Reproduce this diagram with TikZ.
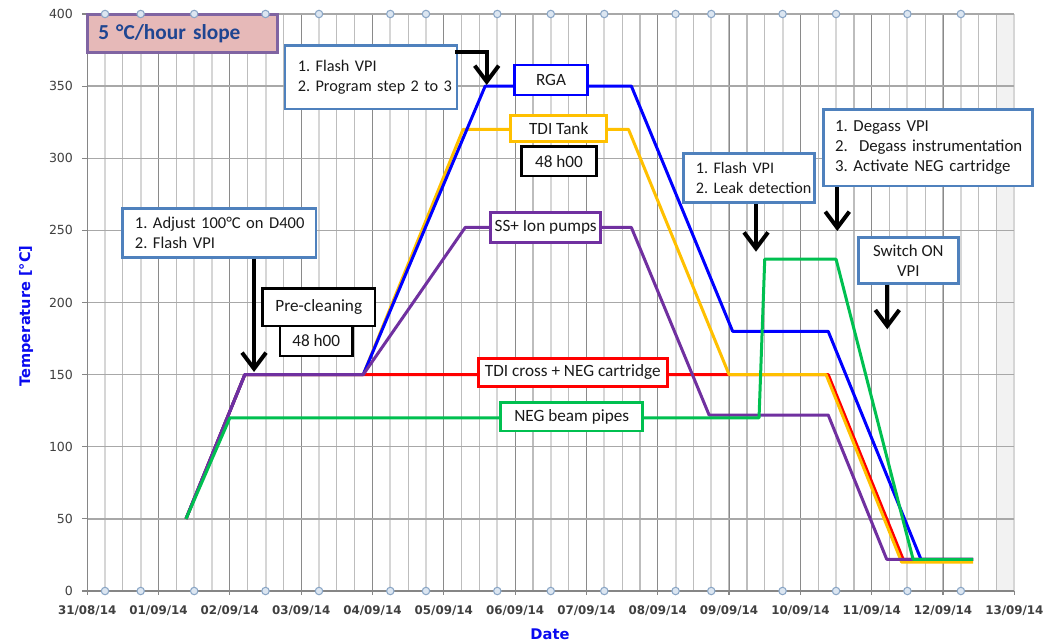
\documentclass[tikz,border=0pt]{standalone}
\usepackage{fontspec}
\setmainfont{Carlito}
\newfontfamily\axfont{DejaVu Sans}
\usetikzlibrary{arrows.meta}
\definecolor{gridmaj}{HTML}{8A8A8A}
\definecolor{gridmin}{HTML}{BDBDBD}
\definecolor{gridlt}{HTML}{D6D6D6}
\definecolor{gridh}{HTML}{A8A8A8}
\definecolor{shadecol}{HTML}{F2F2F2}
\definecolor{axcol}{HTML}{868686}
\definecolor{ticktxt}{HTML}{404040}
\definecolor{callblue}{HTML}{4F81BD}
\definecolor{txt}{HTML}{1A1A1A}
\definecolor{srblue}{HTML}{0000FF}
\definecolor{srorange}{HTML}{FFC000}
\definecolor{srred}{HTML}{FF0000}
\definecolor{srgreen}{HTML}{00C050}
\definecolor{srpurple}{HTML}{7030A0}
\definecolor{pinkfill}{HTML}{E6B9B8}
\definecolor{pinkborder}{HTML}{8064A2}
\definecolor{slopetxt}{HTML}{1F4591}
\definecolor{circfill}{HTML}{DCE6F1}
\definecolor{circdraw}{HTML}{8AA6C6}
\definecolor{titleblue}{HTML}{0A0AF0}
\newcommand{\ind}[1]{\hspace*{#1}}
\begin{document}
\frenchspacing
\begin{tikzpicture}[x=0.75pt,y=-0.75pt,
  lbl/.style={draw, line width=2pt, fill=white, inner sep=0pt, font=\fontsize{12.9}{15}\selectfont, text=txt},
  callout/.style={draw=callblue, line width=2pt, fill=white, align=left, inner ysep=0pt, inner xsep=1.5pt, font=\fontsize{12.6}{15}\selectfont, text=txt},
  callarrow/.style={line width=3pt, -{Straight Barb[length=12pt,width=18pt]}},
  series/.style={line width=2.25pt, line join=round},
  gmin/.style={gridmin, line width=0.9pt},
  glt/.style={gridlt, line width=1.5pt},
  gmaj/.style={gridmaj, line width=0.8pt},
  ghor/.style={gridh, line width=1pt},
  dot/.style={circle, fill=circfill, draw=circdraw, line width=0.8pt, inner sep=0pt, minimum size=5.6pt},
  ylab/.style={anchor=east, inner sep=0pt, font=\axfont\fontsize{9.4}{11}\selectfont, text=ticktxt},
  xlab/.style={anchor=center, inner sep=0pt, font=\axfont\bfseries\fontsize{8.9}{11}\selectfont, text=ticktxt}
]
\useasboundingbox (0,0) rectangle (1056,642);
\fill[white] (0,0) rectangle (1056,642);

\begin{scope}[shift={(87.2,591)}, x=53.49pt, y=1.08188pt]
  \fill[shadecol] (12.75,0) rectangle (13,400);
  \foreach \i in {1,...,51} \draw[gmin] (\i/4,0) -- (\i/4,400);
  \foreach \d in {0.25,0.75,1.5,1.75,2.5,3.25,4.25,4.75,5.75,6.5,7.25,8.25,8.75,9.75,10.5,11.5,12.25}
    \draw[glt] (\d,0) -- (\d,400);
  \draw[glt] (13,0) -- (13,400);
  \foreach \d in {1,...,12} \draw[gmaj] (\d,0) -- (\d,400);
  \foreach \t in {50,100,...,400} \draw[ghor] (0,\t) -- (13,\t);
  \draw[axcol, line width=0.9pt] (0,400) -- (0,0) -- (13,0);
  \foreach \t in {0,50,...,400} {
    \draw[axcol, line width=0.9pt] (0,\t) -- ++(-3.75pt,0);
    \node[ylab] at ([xshift=-10.5pt]0,\t) {\t};
  }
  \foreach \d in {0,...,13} \draw[axcol, line width=0.9pt] (\d,0) -- ++(0,-3pt);
  \node[xlab] at ([yshift=-14.8pt]0,0) {31/08/14};
  \foreach \d/\n in {1/01,2/02,3/03,4/04,5/05,6/06,7/07,8/08,9/09,10/10,11/11,12/12,13/13}
    \node[xlab] at ([yshift=-14.8pt]\d,0) {\n/09/14};

  % series
  \draw[series, srred] (1.385,50) -- (2.21,150) -- (10.39,150) -- (11.44,22) -- (12.42,22);
  \draw[series, srorange] (1.385,50) -- (2.21,150) -- (3.87,150) -- (5.27,320) -- (7.59,320) -- (9.0,150) -- (10.36,150) -- (11.42,20) -- (12.42,20);
  \draw[series, srblue] (1.385,50) -- (2.21,150) -- (3.87,150) -- (5.58,350) -- (7.63,350) -- (9.05,180) -- (10.39,180) -- (11.69,22) -- (12.42,22);
  \draw[series, srpurple] (1.385,50) -- (2.21,150) -- (3.87,150) -- (5.3,252) -- (7.63,252) -- (8.72,122) -- (10.39,122) -- (11.21,22) -- (12.42,22);
  \draw[series, srgreen] (1.385,50) -- (2.0,120) -- (9.42,120) -- (9.5,230) -- (10.5,230) -- (11.58,22) -- (12.42,22);
\end{scope}

% slope box
\node[draw=pinkborder, fill=pinkfill, line width=2.2pt, minimum width=142.5pt, minimum height=28.7pt,
  inner xsep=8.25pt, inner ysep=0pt, text width=126pt, align=left,
  font=\bfseries\fontsize{16}{18}\selectfont, text=slopetxt] (slope) at (182.3,33.2) {5 °C/hour slope};

% markers on top and bottom axis
\begin{scope}[shift={(87.2,591)}, x=53.49pt, y=1.08188pt]
  \foreach \d in {0.25,0.75,1.5,2.5,3.25,4.25,4.75,5.75,6.5,7.25,8.25,8.75,9.75,10.5,11.5,12.25} {
    \node[dot] at (\d,0) {};
    \node[dot] at (\d,400) {};
  }
\end{scope}

% axis titles
\node[rotate=90, font=\axfont\bfseries\fontsize{10.9}{12}\selectfont, text=titleblue] (ytitle) at (26,316) {Temperature [°C]};
\node[font=\axfont\bfseries\fontsize{11}{12}\selectfont, text=titleblue] (xtitle) at (550,634) {Date};

% series labels
\node[lbl, draw=srblue, minimum width=54.75pt, minimum height=22.5pt] (rga) at (551,80) {RGA};
\node[lbl, draw=srorange, minimum width=72pt, minimum height=19.8pt] (tank) at (558.7,128.5) {TDI Tank};
\node[lbl, draw=black, minimum width=56.25pt, minimum height=22pt] (ha) at (559,161.3) {48 h00};
\node[lbl, draw=srpurple, minimum width=82.5pt, minimum height=22.5pt] (ion) at (545.7,227.7) {SS+ Ion pumps};
\node[lbl, draw=srred, minimum width=141.75pt, minimum height=21.3pt] (cross) at (572.8,372.5) {TDI cross + NEG cartridge};
\node[lbl, draw=srgreen, minimum width=106.5pt, minimum height=21.2pt] (neg) at (571.7,416.8) {NEG beam pipes};
\node[lbl, draw=black, minimum width=84.2pt, minimum height=28.3pt] (pre) at (318.8,307.2) {Pre-cleaning};
\node[lbl, draw=black, minimum width=54.2pt, minimum height=22.5pt] (hb) at (316.2,341) {48 h00};

% callouts
\node[callout, font=\fontsize{12.4}{15}\selectfont, minimum height=36.75pt, text width=142pt] (adj) at (219.3,232.8)
  {\ind{7.7pt}\mbox{1. Adjust 100°C on D400}\\\ind{7.7pt}\mbox{2. Flash VPI}};
\node[callout, font=\fontsize{12.2}{15}\selectfont, minimum height=47.5pt, text width=125.8pt] (fp) at (371,77.3)
  {\ind{8pt}\mbox{1. Flash VPI}\\\ind{8pt}\mbox{2. Program step 2 to 3}};
\node[callout, font=\fontsize{12.1}{15}\selectfont, minimum height=37pt, text width=95.25pt] (leak) at (748.8,178)
  {\ind{8pt}\mbox{1. Flash VPI}\\\ind{8pt}\mbox{2. Leak detection}};
\node[callout, minimum height=57.5pt, text width=154pt] (deg) at (928,147.7)
  {\ind{7.3pt}\mbox{1. Degass VPI}\\\ind{7.3pt}\mbox{2.~ Degass instrumentation}\\\ind{7.3pt}\mbox{3. Activate NEG cartridge}};
\node[callout, align=center, minimum height=34.2pt, minimum width=75pt, inner xsep=2pt] (sw) at (908.3,260.5)
  {Switch ON\\VPI};

% arrows
\coordinate (tipA) at (254,372);
\coordinate (tipB) at (486.7,85);
\coordinate (tipC) at (756,251.7);
\coordinate (tipD) at (837.3,231);
\coordinate (tipE) at (887.3,329.3);
\draw[callarrow] (adj.south -| tipA) -- (tipA);
\draw[callarrow, line join=miter] ([shift={(-3.4,7.6)}]fp.north east) -| (tipB);
\draw[callarrow] (leak.south -| tipC) -- (tipC);
\draw[callarrow] (deg.south -| tipD) -- (tipD);
\draw[callarrow] (sw.south -| tipE) -- (tipE);
\end{tikzpicture}
\end{document}
